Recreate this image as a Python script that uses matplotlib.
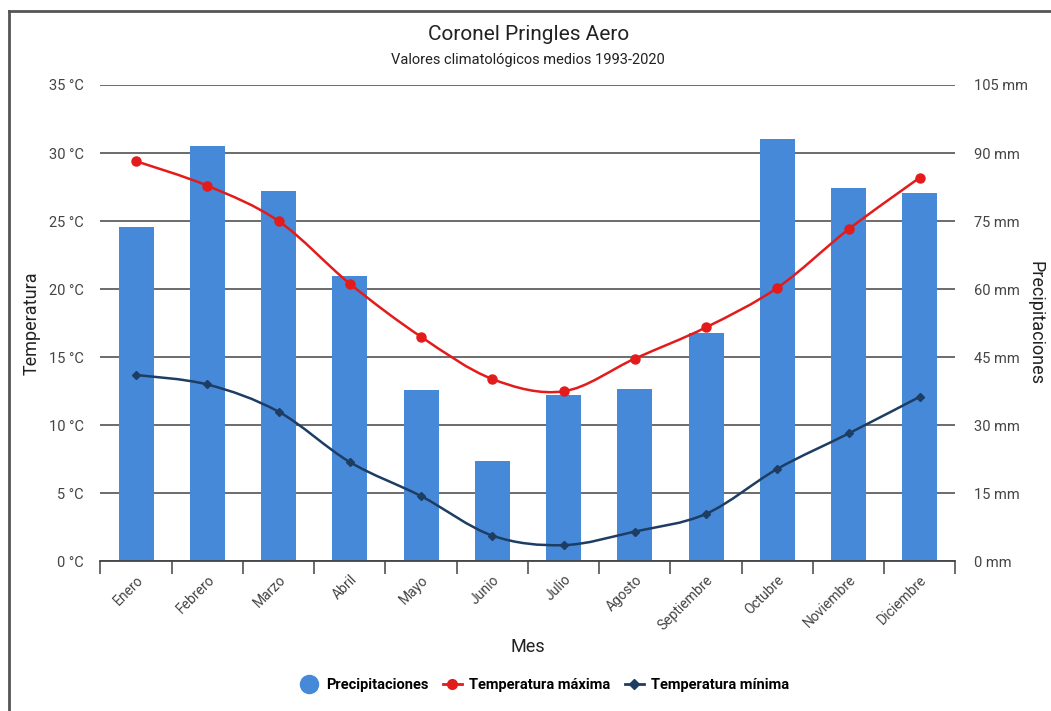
import matplotlib
matplotlib.use("Agg")
import matplotlib.pyplot as plt
from matplotlib.path import Path
from matplotlib.patches import PathPatch
from matplotlib.lines import Line2D
from matplotlib.ticker import FixedLocator

plt.rcParams['font.family'] = ['Roboto', 'DejaVu Sans']

# datos
meses = ["Enero", "Febrero", "Marzo", "Abril", "Mayo", "Junio", "Julio",
         "Agosto", "Septiembre", "Octubre", "Noviembre", "Diciembre"]
precipitaciones = [73.6, 91.5, 81.7, 62.8, 37.8, 22.2, 36.7, 38.0, 50.4, 93.0, 82.2, 81.2]
temp_max = [29.4, 27.6, 25.0, 20.4, 16.5, 13.4, 12.5, 14.9, 17.2, 20.1, 24.4, 28.2]
temp_min = [13.7, 13.0, 11.0, 7.3, 4.8, 1.9, 1.2, 2.2, 3.5, 6.8, 9.4, 12.1]

temp_ticks = [0, 5, 10, 15, 20, 25, 30, 35]
precip_ticks = [0, 15, 30, 45, 60, 75, 90, 105]

AZUL = "#4689d8"
ROJO = "#e31b1b"
MARINO = "#1e3d63"
GRIS = "#444444"


def curva_suave(xs, ys):
    # bezier tipo catmull-rom entre los puntos, como curveType 'function'
    n = len(xs)
    verts = [(xs[0], ys[0])]
    codes = [Path.MOVETO]
    for i in range(n - 1):
        a = max(i - 1, 0)
        d = min(i + 2, n - 1)
        c1 = (xs[i] + (xs[i + 1] - xs[a]) / 6, ys[i] + (ys[i + 1] - ys[a]) / 6)
        c2 = (xs[i + 1] - (xs[d] - xs[i]) / 6, ys[i + 1] - (ys[d] - ys[i]) / 6)
        verts += [c1, c2, (xs[i + 1], ys[i + 1])]
        codes += [Path.CURVE4] * 3
    return Path(verts, codes)


fig = plt.figure(figsize=(10.51, 7.11), dpi=100)
ax2 = fig.add_axes([0.0956, 0.2103, 0.8135, 0.6702])
ax = ax2.twinx()
x = list(range(len(meses)))

# barras en el eje derecho (mm)
ax2.bar(x, precipitaciones, width=0.49, color=AZUL, zorder=2)
ax2.set_ylim(0, 105)
ax2.set_xlim(-0.5, 11.5)
ax2.set_axisbelow(True)
ax2.yaxis.set_major_locator(FixedLocator(precip_ticks))
ax2.grid(axis='y', color=GRIS, linewidth=1.1, zorder=0)
ax2.yaxis.tick_right()
ax2.yaxis.set_label_position("right")
ax2.set_yticklabels([f"{v} mm" for v in precip_ticks])
ax2.tick_params(axis='y', length=0, pad=13, labelsize=10.5, labelcolor=GRIS)
ax2.set_ylabel("Precipitaciones", rotation=-90, labelpad=12, fontsize=13, color="#222222")

# eje x (en ax2, que es el que muestra el eje compartido)
ax2.set_xticks(x)
ax2.set_xticklabels(meses, rotation=45, ha='right', va='top', rotation_mode='anchor')
ax2.set_xticks([i - 0.5 for i in range(len(meses) + 1)], minor=True)
ax2.tick_params(axis='x', which='major', length=0, pad=8, labelsize=10, labelcolor=GRIS)
ax2.tick_params(axis='x', which='minor', length=9, width=1.1, color=GRIS, direction='out')
ax2.set_xlabel("Mes", fontsize=13, color="#222222", labelpad=4)

# lineas en el eje izquierdo (°C)
ax.yaxis.tick_left()
ax.yaxis.set_label_position("left")
ax.set_ylim(0, 35)
ax.yaxis.set_major_locator(FixedLocator(temp_ticks))
ax.set_yticklabels([f"{v} °C" for v in temp_ticks])
ax.tick_params(axis='y', length=0, pad=12, labelsize=10.5, labelcolor=GRIS)
ax.set_ylabel("Temperatura", labelpad=6, fontsize=13, color="#222222")

for serie, color, marcador, ms in [(temp_max, ROJO, 'o', 6.5), (temp_min, MARINO, 'D', 4.5)]:
    ax.add_patch(PathPatch(curva_suave(x, serie), facecolor='none', edgecolor=color,
                           linewidth=1.8, zorder=3))
    ax.plot(x, serie, linestyle='none', marker=marcador, markersize=ms, color=color, zorder=4)

for a in (ax, ax2):
    for s in a.spines.values():
        s.set_visible(False)
ax2.spines['bottom'].set_visible(True)
ax2.spines['bottom'].set_color(GRIS)
ax2.spines['bottom'].set_linewidth(1.3)

fig.text(0.5025, 0.951, "Coronel Pringles Aero", ha='center', va='center', fontsize=15, color="#222222")
fig.text(0.5025, 0.915, "Valores climatológicos medios 1993-2020", ha='center', va='center',
         fontsize=10.5, color="#222222")

handles = [
    Line2D([], [], linestyle='none', marker='o', markersize=13, color=AZUL),
    Line2D([], [], color=ROJO, linewidth=2, marker='o', markersize=7),
    Line2D([], [], color=MARINO, linewidth=2, marker='D', markersize=5),
]
fig.legend(handles, ["Precipitaciones", "Temperatura máxima", "Temperatura mínima"],
           loc='center', bbox_to_anchor=(0.518, 0.036), ncol=3, frameon=False,
           handlelength=1.3, handletextpad=0.5, columnspacing=1.0,
           prop={'weight': 'bold', 'size': 10.5})

# borde del recuadro (solo izquierda y arriba visibles)
fig.add_artist(Line2D([0.0085, 0.0085], [0, 0.984], transform=fig.transFigure, color="#555555", linewidth=2))
fig.add_artist(Line2D([0.0085, 1], [0.984, 0.984], transform=fig.transFigure, color="#555555", linewidth=2))

fig.savefig("out.png", dpi=100)
